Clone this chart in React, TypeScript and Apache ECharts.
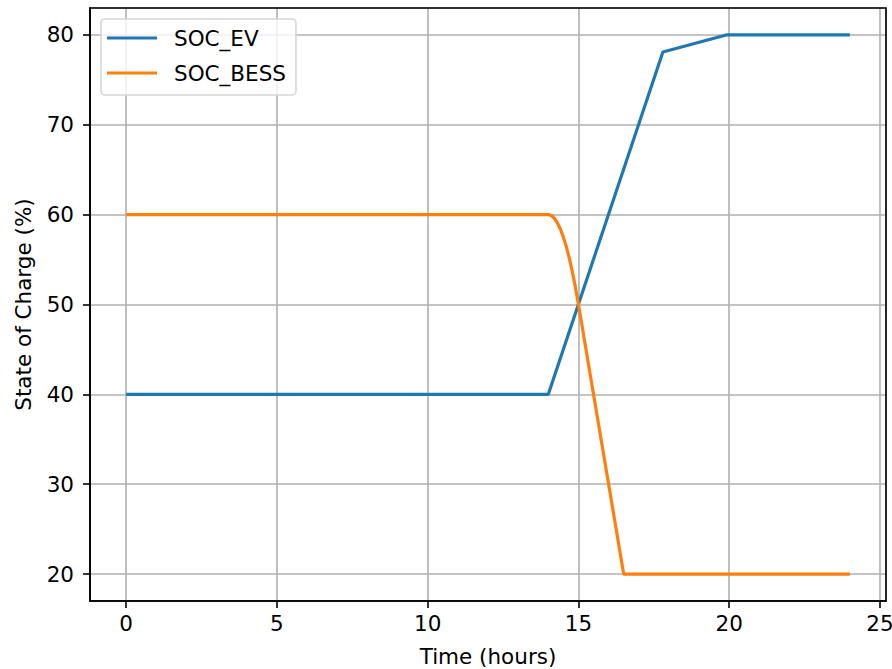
import React, { useEffect, useRef } from "react";
import * as echarts from "echarts";

const evHours = [0, 14, 17.8, 19.9, 24];
const evSoc = [40, 40, 78.1, 80, 80];

const bessHours = [0, 14, 14.1, 14.2, 14.3, 14.4, 14.5, 14.6, 14.7, 14.8, 14.9, 15, 16.5, 24];
const bessSoc = [60, 60, 59.9, 59.6, 59.1, 58.4, 57.5, 56.4, 55.1, 53.6, 51.9, 50, 20, 20];

const seriesNames = ["SOC_EV", "SOC_BESS"];
const xTitle = "Time (hours)";
const yTitle = "State of Charge (%)";

const FONT = "DejaVu Sans";
const FS = 21.5;

export default function App() {
  const ref = useRef<HTMLDivElement>(null);
  useEffect(() => {
    if (!ref.current) return;
    const chart = echarts.init(ref.current, undefined, { renderer: "svg" });
    const gl = 90, gt = 8, gw = 796, gh = 593;
    chart.setOption({
      animation: false,
      backgroundColor: "#ffffff",
      textStyle: { fontFamily: FONT },
      grid: {
        left: gl, top: gt, width: gw, height: gh,
        containLabel: false, outerBoundsMode: "none",
      },
      xAxis: {
        type: "value",
        min: -1.2,
        max: 25.2,
        splitNumber: 5,
        name: xTitle,
        nameLocation: "middle",
        nameGap: 44,
        nameTextStyle: { fontFamily: FONT, fontSize: FS, color: "#000" },
        axisLine: { show: true, onZero: false, lineStyle: { color: "#000", width: 1.6 } },
        axisTick: { show: true, length: 7, lineStyle: { color: "#000", width: 1.6 } },
        axisLabel: {
          fontFamily: FONT, fontSize: FS, color: "#000", margin: 11,
          showMinLabel: false, showMaxLabel: false,
        },
        splitLine: { show: true, lineStyle: { color: "#b0b0b0", width: 1.6 } },
      },
      yAxis: {
        type: "value",
        min: 17,
        max: 83,
        splitNumber: 6,
        name: yTitle,
        nameLocation: "middle",
        nameGap: 56,
        nameTextStyle: { fontFamily: FONT, fontSize: FS, color: "#000" },
        axisLine: { show: true, onZero: false, lineStyle: { color: "#000", width: 1.6 } },
        axisTick: { show: true, length: 7, lineStyle: { color: "#000", width: 1.6 } },
        axisLabel: {
          fontFamily: FONT, fontSize: FS, color: "#000", margin: 16,
          showMinLabel: false, showMaxLabel: false,
        },
        splitLine: { show: true, lineStyle: { color: "#b0b0b0", width: 1.6 } },
      },
      legend: {
        show: true,
        left: 101,
        top: 19,
        orient: "vertical",
        data: seriesNames,
        icon: "rect",
        itemWidth: 50,
        itemHeight: 3.2,
        itemGap: 13,
        padding: [8, 10, 11, 6],
        backgroundColor: "rgba(255,255,255,0.8)",
        borderColor: "#d6d6d6",
        borderWidth: 1.6,
        borderRadius: 4,
        textStyle: { fontFamily: FONT, fontSize: FS, color: "#000", padding: [0, 0, 0, 12], lineHeight: 21 },
      },
      series: [
        {
          name: seriesNames[0],
          type: "line",
          data: evHours.map((h, i) => [h, evSoc[i]]),
          showSymbol: false,
          symbol: "none",
          lineStyle: { color: "#1f77b4", width: 3.2 },
          itemStyle: { color: "#1f77b4" },
          z: 3,
        },
        {
          name: seriesNames[1],
          type: "line",
          data: bessHours.map((h, i) => [h, bessSoc[i]]),
          showSymbol: false,
          symbol: "none",
          lineStyle: { color: "#ff7f0e", width: 3.2 },
          itemStyle: { color: "#ff7f0e" },
          z: 4,
        },
      ],
      graphic: [
        {
          type: "rect",
          z: 100,
          silent: true,
          shape: { x: gl, y: gt, width: gw, height: gh },
          style: { fill: "none", stroke: "#000", lineWidth: 1.6 },
        },
      ],
    });
    return () => chart.dispose();
  }, []);
  return (
    <div
      ref={ref}
      style={{ position: "fixed", left: 0, top: 0, width: 892, height: 669 }}
    />
  );
}
